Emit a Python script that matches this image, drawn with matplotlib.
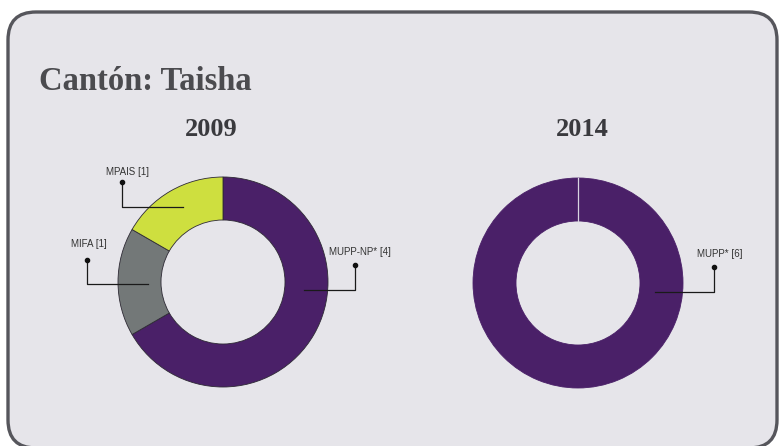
import matplotlib
matplotlib.use("Agg")
import matplotlib.pyplot as plt
from matplotlib.patches import FancyBboxPatch

# ---- data ----
title = "Cantón: Taisha"
years = ["2009", "2014"]
parties_2009 = ["MUPP-NP*", "MIFA", "MPAIS"]
seats_2009 = [4, 1, 1]
parties_2014 = ["MUPP*"]
seats_2014 = [6]
colors_2009 = ["#4a2068", "#737878", "#cedf3f"]
colors_2014 = ["#4a2068"]

# ---- layout ----
W, H = 780, 446
fig = plt.figure(figsize=(W / 100, H / 100), dpi=100)
fig.patch.set_facecolor("white")
ax = fig.add_axes([0, 0, 1, 1])

box = FancyBboxPatch((8, 12), 769, 436, boxstyle="round,pad=0,rounding_size=28",
                     facecolor="#e6e5ea", edgecolor="#56565c", linewidth=2.4, zorder=0)
ax.add_patch(box)

ax.text(39, 82, title, fontsize=23.5, fontweight="bold", family="Liberation Serif",
        color="#4b4b4f", va="center", ha="left")

centers = [(223, 282), (578, 283)]
year_x = [211, 582]
R, r_in = 105, 62
for yr, yx in zip(years, year_x):
    ax.text(yx, 130, yr, fontsize=19, fontweight="bold",
            family="Liberation Serif", color="#3a3a3e", ha="center", va="center")

# pies (y axis inverted -> counterclock=True with startangle=-90 gives clockwise from top)
w1, _ = ax.pie(seats_2009, colors=colors_2009, center=centers[0], radius=R,
               startangle=-90, counterclock=True,
               wedgeprops=dict(width=R - r_in, edgecolor="#2e2a35", linewidth=0.6), frame=True)
w2, _ = ax.pie(seats_2014, colors=colors_2014, center=centers[1], radius=R,
               startangle=-90, counterclock=True,
               wedgeprops=dict(width=R - r_in, edgecolor="#4a2068", linewidth=0.6), frame=True)
ax.plot([centers[1][0], centers[1][0]], [centers[1][1] - R, centers[1][1] - r_in],
        color="#d8d4e0", lw=0.9, zorder=3)
ax.set_xlim(0, W)
ax.set_ylim(H, 0)
ax.set_aspect("equal")
ax.axis("off")

# labels with elbow leader lines
def leader(label, value, tx, ty, dx, dy, ey, ex):
    ax.text(tx, ty, f"{label} [{value}]", fontsize=7, family="Liberation Sans",
            color="#333333", ha="center", va="center")
    ax.plot([dx, dx, ex], [dy, ey, ey], color="#1a1a1a", lw=0.9, zorder=4)
    ax.plot([dx], [dy], "o", color="#111111", ms=3, zorder=5)

leader(parties_2009[2], seats_2009[2], 127, 172, 122, 182, 207, 183)
leader(parties_2009[1], seats_2009[1], 89, 244, 87, 260, 284, 148)
leader(parties_2009[0], seats_2009[0], 360, 252, 355, 265, 290, 304)
leader(parties_2014[0], seats_2014[0], 720, 254, 714, 267, 292, 655)

fig.savefig("out.png", dpi=100, facecolor="white")
